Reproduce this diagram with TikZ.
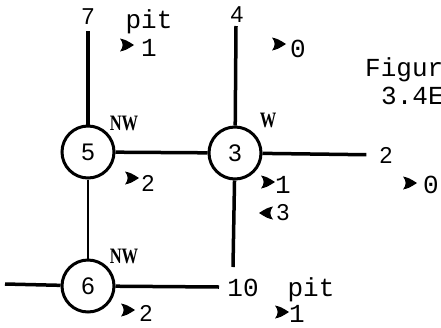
\documentclass[tikz,border=0pt]{standalone}
\usepackage{fontspec}
\setmainfont{Liberation Sans}
\newfontfamily\monof{Liberation Mono}
\newfontfamily\seriff{Liberation Serif}
\newcommand{\condtxt}[1]{\scalebox{0.75}[1]{#1}}
\begin{document}
\begin{tikzpicture}[x=1pt,y=-1pt,
  circ/.style={circle,draw,line width=3pt,minimum size=52pt,inner sep=0pt,font=\fontsize{24}{24}\selectfont},
  edge/.style={line width=3.5pt},
  thinedge/.style={line width=2.2pt},
  lbl/.style={font=\fontsize{23}{23}\selectfont,inner sep=1pt},
  txt/.style={font=\monof\fontsize{26}{26}\selectfont,inner sep=0pt},
  dir/.style={font=\seriff\bfseries\fontsize{22}{22}\selectfont,inner sep=0pt},
  dart/.pic={\fill (-7,-6.5) .. controls (-1,-5) .. (7,0) .. controls (-1,5) .. (-7,6.5) .. controls (-3.5,2) and (-3.5,-2) .. cycle;}
]
\useasboundingbox (0,0) rectangle (441,327);
% circles
\node[circ] (n5) at (88,152) {5};
\node[circ] (n3) at (235,153) {3};
\node[circ] (n6) at (88,286) {6};
% end labels
\node[lbl] (l7) at (88,17) {7};
\node[lbl] (l4) at (237,15) {4};
\node[lbl] (l2) at (386,155) {2};
\node[txt] (l10) at (243,288) {10};
\coordinate (c4) at (236,26);
\coordinate (c10) at (233,267);
\coordinate (cl) at (5,284);
\coordinate (cr) at (219,287);
% connectors
\draw[edge,shorten >=5pt] (n5) -- (l7);
\draw[edge] (n5) -- (n3);
\draw[edge] (n3) -- (c4);
\draw[edge,shorten >=12pt] (n3) -- (l2);
\draw[edge] (n3) -- (c10);
\draw[thinedge] (n5) -- (n6);
\draw[edge] (cl) -- (n6);
\draw[edge] (n6) -- (cr);
% direction labels
\node[dir] (d5) at (124,123) {\condtxt{NW}};
\node[dir] (d3) at (268,120) {\condtxt{W}};
\node[dir] (d6) at (124,256) {\condtxt{NW}};
% pit labels
\node[txt] (pit1) at (149,22) {pit};
\node[txt] (pit2) at (311,290) {pit};
% markers and numbers
\pic at (127,45) {dart}; \node[txt] (a1) at (149,48) {1};
\pic at (279,44) {dart}; \node[txt] (a2) at (298,49) {0};
\pic at (132,178) {dart}; \node[lbl] (a3) at (148,183) {2};
\pic at (268,182) {dart}; \node[txt] (a4) at (283,185) {1};
\pic[xscale=-1] at (266,213) {dart}; \node[lbl] (a5) at (283,213) {3};
\pic at (410,183) {dart}; \node[txt] (a6) at (431,185) {0};
\pic at (128,310) {dart}; \node[lbl] (a7) at (146,313) {2};
\pic at (282,312) {dart}; \node[txt] (a8) at (297,314) {1};
% caption
\node[txt,anchor=west] (fig1) at (365,70) {Figure};
\node[txt,anchor=west] (fig2) at (381,96) {3.4E};
\end{tikzpicture}
\end{document}
